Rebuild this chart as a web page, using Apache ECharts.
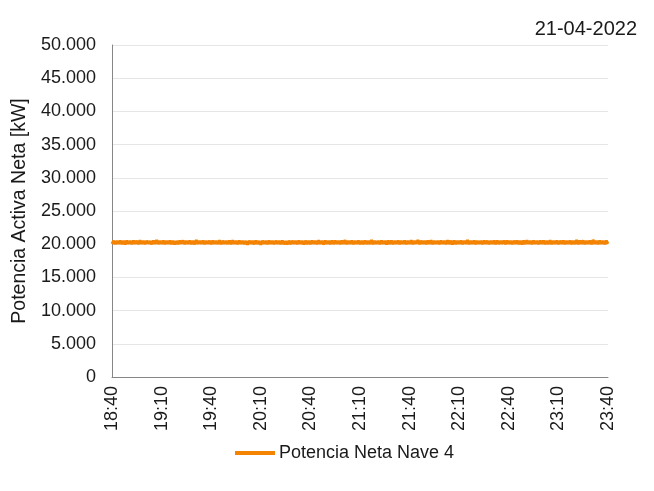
<!DOCTYPE html>
<html>
<head>
<meta charset="utf-8">
<script src="https://cdn.jsdelivr.net/npm/echarts@6/dist/echarts.min.js"></script>
<style>
  html, body { margin: 0; padding: 0; background: #fff; }
  #chart { width: 654px; height: 491px; }
</style>
</head>
<body>
<div id="chart"></div>
<script>
// Net active power of building 4, one reading per minute, 18:40 – 23:40
const startTime = '18:40';
const dateLabel = '21-04-2022';
const seriesName = 'Potencia Neta Nave 4';
const yTicks = { min: 0, max: 50000, interval: 5000 };

const potenciaNeta = [
  20040, 20510, 20010, 20480, 20070, 20530, 20020, 20490, 19990, 20540, 20060, 20470, 20030, 20520, 20080, 20500, 20010, 20560, 20050, 20480,
  20020, 20510, 20090, 20470, 20000, 20530, 20060, 20600, 20030, 20490, 20070, 20520, 20010, 20480, 20050, 20540, 20020, 20500, 19960, 20470,
  20040, 20510, 20080, 20550, 20010, 20490, 20060, 20520, 20030, 20480, 20000, 20620, 20050, 20500, 20070, 20530, 20020, 20490, 20060, 20510,
  20010, 20540, 20050, 20480, 20030, 20590, 20000, 20510, 20070, 20490, 20040, 20530, 20020, 20560, 20060, 20480, 20010, 20520, 20050, 20500,
  20030, 20470, 19950, 20510, 20060, 20490, 20000, 20530, 20040, 20480, 19930, 20520, 20070, 20500, 20020, 20540, 20050, 20480, 20010, 20510,
  20060, 20490, 20030, 20550, 20000, 20470, 19970, 20520, 20040, 20500, 20080, 20480, 20020, 20530, 20060, 20490, 19960, 20510, 20040, 20470,
  20010, 20530, 20070, 20490, 20030, 20560, 20050, 20500, 19990, 20520, 20060, 20480, 20020, 20540, 20040, 20510, 20080, 20470, 20030, 20530,
  20050, 20600, 20010, 20490, 20060, 20520, 20020, 20480, 20070, 20540, 20030, 20500, 20000, 20530, 20050, 20470, 20040, 20610, 20010, 20500,
  20070, 20480, 20020, 20530, 20050, 20500, 19980, 20520, 20040, 20550, 20010, 20490, 20060, 20510, 20030, 20480, 20070, 20540, 20020, 20500,
  20050, 20560, 20030, 20490, 20080, 20630, 20010, 20510, 20060, 20480, 20020, 20530, 20040, 20570, 20000, 20500, 20070, 20480, 20030, 20520,
  20060, 20490, 20020, 20590, 20040, 20510, 19970, 20530, 20010, 20480, 20070, 20520, 20030, 20500, 20050, 20600, 20020, 20490, 20060, 20530,
  20010, 20500, 20050, 20480, 20030, 20540, 20070, 20510, 20020, 20490, 20060, 20520, 20000, 20550, 20040, 20480, 20080, 20510, 20030, 20530,
  20050, 20490, 20020, 20510, 20060, 20540, 20010, 20480, 19980, 20520, 20040, 20580, 20070, 20500, 20020, 20530, 20050, 20490, 20030, 20510,
  20060, 20540, 20010, 20500, 20040, 20570, 20030, 20490, 20070, 20520, 20000, 20510, 20050, 20550, 20020, 20480, 20060, 20530, 20010, 20500,
  20040, 20610, 20020, 20520, 20060, 20550, 20030, 20490, 20070, 20530, 20010, 20640, 20050, 20500, 20020, 20540, 20060, 20490, 20030, 20520,
  20050
];

// minute-by-minute time categories, labelled every half hour
const [h0, m0] = startTime.split(':').map(Number);
const horas = potenciaNeta.map((_, i) => {
  const t = h0 * 60 + m0 + i;
  const h = Math.floor(t / 60) % 24, m = t % 60;
  return h + ':' + String(m).padStart(2, '0');
});

const fmtMiles = v => String(v).replace(/\B(?=(\d{3})+(?!\d))/g, '.');
const font = 'Liberation Sans, Arial, sans-serif';
const txt = '#1a1a1a';

const chart = echarts.init(document.getElementById('chart'), null, { renderer: 'canvas' });
chart.setOption({
  animation: false,
  title: {
    text: dateLabel,
    right: 12, top: 14,
    textStyle: { fontFamily: font, fontSize: 20, fontWeight: 'normal', color: txt }
  },
  legend: {
    bottom: 24, left: 230,
    data: [{ name: seriesName, icon: 'rect' }],
    itemWidth: 40, itemHeight: 4, itemGap: 4,
    textStyle: { fontFamily: font, fontSize: 18, color: txt, padding: [0, 0, 0, -1] }
  },
  grid: { left: 112, right: 46, top: 45, bottom: 114, containLabel: false },
  xAxis: {
    type: 'category',
    data: horas,
    boundaryGap: false,
    axisLine: { lineStyle: { color: '#868686', width: 1 } },
    axisTick: { show: false },
    axisLabel: {
      interval: 29, rotate: 90, margin: 9,
      fontFamily: font, fontSize: 18, color: txt
    },
    splitLine: { show: false }
  },
  yAxis: {
    type: 'value',
    min: yTicks.min, max: yTicks.max, interval: yTicks.interval,
    name: 'Potencia Activa Neta [kW]',
    nameLocation: 'middle', nameGap: 80,
    nameTextStyle: { fontFamily: font, fontSize: 19.5, color: txt },
    axisLine: { show: true, lineStyle: { color: '#868686', width: 1 } },
    axisTick: { show: false },
    axisLabel: { formatter: fmtMiles, margin: 16, fontFamily: font, fontSize: 18, color: txt },
    splitLine: { lineStyle: { color: '#e6e6e6', width: 1 } }
  },
  series: [{
    name: seriesName,
    type: 'line',
    data: potenciaNeta,
    showSymbol: false,
    lineStyle: { color: '#f38300', width: 3 },
    itemStyle: { color: '#f38300' }
  }]
});
</script>
</body>
</html>
